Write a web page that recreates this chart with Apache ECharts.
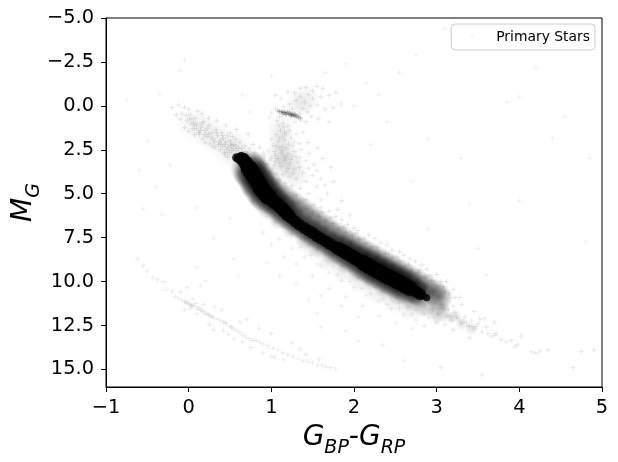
<!DOCTYPE html>
<html><head><meta charset="utf-8">
<style>html,body{margin:0;padding:0;background:#fff}#c{width:618px;height:462px}</style>
<script src="https://cdn.jsdelivr.net/npm/echarts@6/dist/echarts.min.js"></script>
</head><body><div id="c"></div>
<script>
const xTicks=[-1,0,1,2,3,4,5];
const yTicks=[-5,-2.5,0,2.5,5,7.5,10,12.5,15];
const coreTip=[[0.58,2.95],[0.6,3.0],[0.63,2.9],[0.68,2.95],[0.72,3.15]];
const coreTop=[[0.64,3.0],[0.67,3.2],[0.70,3.38]];
const coreUpper=[[0.73,3.55],[0.76,3.75],[0.79,3.98],[0.82,4.2],[0.85,4.45],[0.88,4.72],[0.92,4.95],[0.96,5.15]];
const coreShoulder=[[1.0,5.3],[1.04,5.47],[1.08,5.62],[1.12,5.8],[1.16,5.98],[1.2,6.18]];
const coreMid=[[1.24,6.38],[1.29,6.58],[1.34,6.76],[1.4,6.95],[1.45,7.09],[1.5,7.24],[1.55,7.4],[1.6,7.55],[1.66,7.72],[1.71,7.86],[1.76,8.0]];
const coreRise=[[1.82,8.14],[1.87,8.27],[1.92,8.4],[1.97,8.54],[2.02,8.68],[2.07,8.82]];
const coreLow=[[2.12,8.96],[2.17,9.1],[2.22,9.23],[2.27,9.36],[2.32,9.49],[2.37,9.62],[2.42,9.74],[2.47,9.86],[2.52,9.98],[2.57,10.1],[2.62,10.23],[2.67,10.36]];
const coreFade=[[2.72,10.5],[2.76,10.6],[2.8,10.72]];
const coreEnd=[[2.84,10.82],[2.88,10.92]];
const bandBinary=[[0.8,3.4],[0.88,3.9],[0.97,4.4],[1.06,4.85],[1.16,5.25],[1.26,5.6],[1.36,5.95],[1.46,6.3],[1.56,6.65],[1.66,6.98],[1.76,7.3],[1.86,7.58],[1.96,7.88],[2.06,8.15],[2.16,8.42],[2.26,8.68],[2.36,8.95],[2.46,9.2],[2.56,9.48],[2.66,9.75],[2.76,10.02],[2.86,10.3],[2.96,10.6],[3.03,10.9]];
const bandSub=[[0.68,3.95],[0.76,4.6],[0.86,5.25],[0.97,5.85],[1.1,6.4],[1.26,6.95],[1.42,7.5],[1.58,8.0],[1.74,8.45],[1.9,8.92],[2.06,9.4],[2.22,9.85],[2.38,10.3],[2.54,10.7],[2.7,11.05],[2.86,11.38],[3.02,11.72]];
const tailCloud=[[3.16,12.05],[3.3,12.4],[3.42,12.7],[3.08,11.5],[3.22,11.95]];
const bandFarLow=[[1.5,7.9],[1.7,8.65],[1.9,9.3],[2.1,9.9],[2.3,10.5],[2.5,11.0],[2.7,11.45]];
const blueCloud=[[0.02,0.9],[0.1,1.2],[0.18,1.35],[0.26,1.7],[0.34,1.85],[0.42,2.15],[0.5,2.3],[0.56,2.55],[0.62,2.45],[0.52,2.75]];
const giantCloud=[[1.12,1.3],[1.12,1.9],[1.12,2.5],[1.1,3.0],[1.2,2.9],[1.12,3.5],[1.24,3.5],[1.3,4.0],[1.42,-0.4],[1.32,0.0]];
const blueHaze=[[-0.2,0.1],[-0.12,-0.05],[-0.08,0.45],[-0.05,0.1],[0,0.2],[0.02,0.5],[-0.02,0.85],[0.03,1.0],[0.05,1.3],[0,1.45],[0.08,0.7],[0.1,1.05],[0.12,1.5],[0.07,1.65],[0.15,1.2],[0.18,0.9],[0.2,1.4],[0.22,1.75],[0.17,1.9],[0.25,1.1],[0.28,1.55],[0.3,1.9],[0.26,2.15],[0.33,1.35],[0.35,1.7],[0.37,2.05],[0.32,2.35],[0.4,1.5],[0.42,1.85],[0.44,2.2],[0.38,2.5],[0.47,1.7],[0.5,2.0],[0.48,2.35],[0.43,2.65],[0.52,2.55],[0.55,2.2],[0.57,1.9],[0.6,2.4],[0.56,2.75],[0.62,2.05],[0.65,2.6],[0.68,2.3],[0.63,2.85],[0.47,2.9],[0.5,1.55],[0.53,1.75],[0.58,2.55],[0.61,2.7],[0.46,2.5],[0.41,2.3],[0.36,2.2],[0.31,2.05],[0.24,1.6],[0.19,1.65],[0.14,1.4],[0.09,1.3],[0.06,0.95],[0.01,0.75],[0.11,0.3],[0.24,0.7],[0.34,0.85],[0.45,1.1],[0.58,1.35],[0.72,1.6],[0.78,2.2],[0.52,2.25],[0.49,2.65],[0.54,2.95],[0.59,2.95],[0.66,2.95],[0.71,2.7],[0.44,2.75],[0.39,1.95],[0.29,2.3],[0.2,2.1],[-0.05,1.25],[-0.1,0.75],[0.16,0.45],[-0.15,0.5],[-0.03,0.55],[0.04,0.75],[0.07,1.12],[0.13,1.62],[0.16,1.02],[0.23,1.28],[0.27,1.82],[0.34,1.52],[0.39,2.15],[0.41,1.68],[0.45,2.05],[0.51,2.18],[0.54,2.42],[0.57,2.28],[0.64,2.42],[0.69,2.62],[0.74,2.45],[0.8,2.65],[0.86,2.35],[0.9,2.7]];
const giant=[[1.05,-0.6],[1.12,-0.4],[1.2,-0.8],[1.28,-0.75],[1.35,-1.0],[1.42,-1.05],[1.5,-0.85],[1.55,-1.1],[1.62,-1.0],[1.3,-0.3],[1.4,-0.2],[1.5,-0.4],[1.6,-0.5],[1.7,-0.6],[1.78,-0.75],[1.25,0.2],[1.38,0.15],[1.47,0.0],[1.56,-0.05],[1.65,0.2],[1.75,0.1],[1.85,-0.1],[1.05,0.15],[1.0,0.4],[0.98,0.65],[1.07,0.85],[1.14,1.0],[1.2,1.15],[1.28,0.9],[1.36,0.8],[1.48,0.6],[1.57,0.75],[1.7,0.9],[1.11,1.4],[1.18,1.6],[1.06,1.65],[1.0,1.9],[1.08,2.05],[1.16,1.95],[1.24,1.85],[1.3,1.6],[1.38,1.5],[1.02,2.25],[1.1,2.35],[1.18,2.4],[1.26,2.25],[1.34,2.15],[1.44,2.1],[0.96,2.55],[1.04,2.6],[1.12,2.7],[1.2,2.75],[1.28,2.6],[1.36,2.5],[1.46,2.7],[1.56,2.4],[0.92,2.85],[1.0,2.95],[1.08,3.0],[1.16,3.1],[1.24,3.05],[1.32,3.2],[1.42,3.1],[1.52,3.35],[1.62,3.0],[1.72,3.5],[0.88,3.2],[0.96,3.3],[1.04,3.4],[1.12,3.45],[1.2,3.55],[1.28,3.6],[1.38,3.8],[1.5,3.95],[1.6,4.15],[1.75,4.3],[0.9,3.65],[0.98,3.75],[1.06,3.85],[1.14,3.9],[1.22,4.0],[1.3,4.15],[1.42,4.3],[1.55,4.6],[1.68,5.0],[1.85,5.4],[1.01,4.1],[1.09,4.2],[1.17,4.4],[1.25,4.55],[1.35,4.7],[1.45,5.0],[1.6,5.35],[1.8,5.9],[1.95,6.2],[1.22,3.3],[1.18,2.95],[1.14,2.3],[1.1,1.85],[1.16,1.5],[1.3,2.9],[1.05,3.15],[1.15,1.2],[1.09,1.1],[1.22,1.42],[1.14,1.72],[1.06,2.3],[1.13,2.52],[1.21,2.18],[1.28,2.05],[1.05,2.82],[1.15,2.85],[1.25,2.85],[1.35,2.95],[0.98,3.1],[1.1,3.25],[1.18,3.75],[1.26,3.85],[1.34,3.5],[1.45,3.55],[1.55,3.7],[1.65,4.5],[1.02,3.6],[1.45,-0.65],[1.35,-0.55],[1.22,-0.1],[1.15,0.05],[1.34,0.45],[1.44,0.35],[1.1,0.6],[1.42,0.9]];
const clump=[[1.08,0.28],[1.1,0.33],[1.13,0.36],[1.15,0.38],[1.17,0.42],[1.19,0.4],[1.21,0.47],[1.23,0.46],[1.25,0.52],[1.27,0.55],[1.29,0.56],[1.31,0.62],[1.33,0.65],[1.35,0.7],[1.2,0.35],[1.24,0.58],[1.14,0.46],[1.28,0.48],[1.18,0.5],[1.22,0.42],[1.26,0.47],[1.16,0.36],[1.3,0.58],[1.12,0.32],[1.24,0.5]];
const msUpper=[[0.95,4.45],[1.05,4.85],[1.2,5.2],[1.32,5.5],[1.42,5.85],[1.5,6.05],[1.58,6.3],[1.66,6.55],[1.74,6.7],[1.82,7.0],[1.9,7.2],[1.98,7.4],[2.06,7.6],[2.14,7.85],[2.22,8.0],[2.3,8.25],[2.38,8.4],[2.46,8.65],[2.54,8.85],[2.62,9.1],[2.7,9.3],[2.78,9.5],[2.86,9.75],[2.94,9.95],[3.02,10.25],[3.1,10.55],[1.78,6.3],[1.92,6.75],[2.05,7.1],[2.18,7.35],[2.32,7.8],[2.46,8.2],[2.6,8.5],[2.74,8.85],[2.88,9.3],[3.0,9.6],[3.12,10.0],[3.2,10.45],[2.25,7.55],[2.4,7.9],[2.55,8.3],[1.6,5.8],[1.7,6.0],[1.52,5.6],[1.85,6.5],[2.0,6.95],[2.68,8.7],[2.82,9.05],[3.05,10.0],[3.28,10.9],[1.3,5.1],[1.42,5.35],[1.62,6.05],[1.72,6.35],[1.88,6.9],[2.02,7.25],[2.12,7.55],[2.28,8.05],[2.42,8.45],[2.52,8.6],[2.66,9.0],[2.8,9.35],[2.92,9.65],[3.08,10.3],[3.15,10.7],[3.22,10.9]];
const msLower=[[0.7,4.9],[0.78,5.45],[0.86,5.85],[0.95,6.3],[1.04,6.6],[1.14,6.9],[1.25,7.3],[1.35,7.5],[1.45,7.95],[1.55,8.2],[1.65,8.5],[1.75,8.85],[1.85,9.1],[1.95,9.45],[2.05,9.8],[2.15,10.05],[2.25,10.35],[2.35,10.6],[2.45,10.9],[2.55,11.2],[2.65,11.45],[2.75,11.65],[2.85,11.85],[1.1,7.6],[1.25,8.1],[1.4,8.6],[1.55,9.0],[1.7,9.5],[1.85,9.95],[2.0,10.35],[2.15,10.8],[2.3,11.1],[2.45,11.55],[2.6,11.9],[2.75,12.2],[1.3,9.0],[1.5,9.7],[1.7,10.4],[1.9,10.85],[2.1,11.4],[2.3,11.95],[2.5,12.35],[2.7,12.65],[1.0,7.9],[1.6,10.8],[1.85,11.4],[2.05,12.0],[2.85,12.5],[0.9,7.2],[1.15,8.6],[1.8,9.6],[1.95,10.0],[2.1,10.4],[2.2,10.7],[2.35,11.0],[2.4,11.3],[2.55,11.5],[2.7,11.85],[2.9,12.05],[1.6,9.1],[1.75,9.15],[1.48,8.5],[1.35,8.05]];
const msTail=[[2.95,11.6],[3.02,11.85],[3.08,11.55],[3.12,11.95],[3.18,12.2],[3.22,11.75],[3.26,12.1],[3.3,12.4],[3.34,12.0],[3.38,12.55],[3.42,12.25],[3.46,12.7],[3.5,12.4],[3.55,12.85],[3.6,12.6],[3.66,13.1],[3.72,12.95],[3.78,13.3],[3.84,13.45],[3.9,13.35],[3.95,13.7],[3.98,13.6],[4.15,14.0],[4.2,14.05],[4.25,13.95],[4.35,13.9],[4.02,13.1],[3.3,11.3],[3.45,11.7],[3.58,12.1],[3.2,12.75],[3.4,13.2],[3.1,12.45],[3.0,12.35],[3.7,12.3],[4.75,14.0],[4.65,14.9],[4.9,13.9],[3.05,14.9],[3.55,15.3],[3.36,12.35],[3.4,12.5],[3.32,12.25],[3.28,12.3],[3.44,12.6],[3.48,12.55],[3.24,12.0],[3.16,12.0],[3.14,11.6],[3.06,11.3],[3.2,11.4],[3.52,12.15],[3.62,12.95],[3.7,13.05]];
const whiteDwarf=[[-0.62,8.7],[-0.55,9.1],[-0.5,9.4],[-0.44,9.8],[-0.38,9.9],[-0.3,10.0],[-0.27,10.45],[-0.2,10.55],[-0.16,10.85],[-0.12,10.95],[-0.08,11.05],[-0.05,11.15],[-0.02,11.2],[0.0,11.25],[0.03,11.35],[0.06,11.4],[0.1,11.55],[0.14,11.65],[0.18,11.7],[0.22,11.85],[0.26,11.95],[0.3,12.05],[0.34,12.15],[0.38,12.2],[0.42,12.3],[0.46,12.4],[0.5,12.55],[0.54,12.7],[0.58,12.8],[0.62,12.9],[0.66,13.05],[0.7,13.15],[0.74,13.25],[0.78,13.35],[0.82,13.35],[0.86,13.45],[0.9,13.55],[0.96,13.65],[1.02,13.8],[1.08,13.9],[1.14,14.05],[1.2,14.15],[1.26,14.25],[1.32,14.4],[1.38,14.5],[1.44,14.55],[1.5,14.65],[1.56,14.75],[1.62,14.75],[1.66,14.85],[1.72,14.9],[1.78,15.0],[1.04,14.3],[0.1,11.85],[0.25,12.45],[0.3,12.75],[0.42,12.8],[0.48,13.0],[0.55,13.25],[0.65,13.45],[0.75,13.75],[0.9,14.05],[1.0,14.25],[1.15,14.45],[0.05,11.0],[0.18,11.3],[0.32,11.45],[0.4,11.6],[0.62,12.3],[0.7,12.15],[0.85,12.65],[1.0,12.95],[1.25,13.5],[1.35,13.85],[1.42,14.15],[1.58,14.45],[-0.1,10.6],[-0.02,10.35],[0.14,10.25],[0.02,11.55],[-0.05,11.6],[0.08,11.25],[0.12,11.48],[0.16,11.6],[0.28,12.0],[0.44,12.35],[0.52,12.6],[0.24,11.9],[0.2,11.8],[0.02,11.3],[0.04,11.38],[-0.03,11.17]];
const field=[[-0.1,-2.0],[-0.35,-0.65],[-0.5,2.0],[-0.6,3.7],[-0.4,4.6],[-0.55,5.85],[0.1,5.8],[0.55,8.7],[1.9,-2.4],[2.55,-1.9],[2.75,-2.9],[3.75,-3.5],[3.85,-0.2],[4.0,-0.5],[4.55,0.6],[4.4,1.85],[2.9,1.9],[3.3,3.0],[2.7,4.3],[3.4,5.6],[2.2,2.2],[2.4,0.9],[2.0,0.0],[2.15,-1.3],[0.5,6.4],[0.3,7.5],[0.6,9.7],[0.95,8.95],[1.1,9.7],[1.3,10.1],[1.45,11.05],[1.55,11.8],[1.6,12.6],[0.1,9.2],[0.2,9.95],[4.0,5.4],[4.8,7.7],[3.5,8.1],[2.9,7.0],[3.6,9.6],[1.9,12.8],[2.05,13.4],[2.35,13.6],[2.6,14.5],[-0.75,-0.3],[1.0,-1.7],[1.65,-1.9],[2.3,-0.6],[0.65,-0.6],[0.75,0.35],[-0.05,-2.6],[3.1,-4.4],[4.2,-2.2],[4.85,3.0],[-0.22,3.4],[-0.32,6.2]];
const cross='path://M4 0h2v4h4v2h-4v4h-2v-4h-4v-2h4z';
function stars(name,data,opacity){return{name,type:'scatter',data,symbol:cross,symbolSize:5,silent:true,itemStyle:{color:'#000',opacity:opacity||0.06},z:3}}
function puff(name,data,size,alpha){return{name,type:'scatter',data,symbol:'circle',symbolSize:size,silent:true,
  itemStyle:{color:{type:'radial',x:0.5,y:0.5,r:0.5,colorStops:[{offset:0,color:'rgba(0,0,0,'+alpha+')'},{offset:0.5,color:'rgba(0,0,0,'+alpha*0.6+')'},{offset:1,color:'rgba(0,0,0,0)'}]}},z:4}}
function solid(name,data,size){return{name,type:'scatter',data,symbol:'circle',symbolSize:size,silent:true,itemStyle:{color:'#000'},z:5}}
const nameRich={m:{fontFamily:'DejaVu Sans',fontStyle:'italic',fontSize:28,color:'#000',lineHeight:30,verticalAlign:'bottom'},s:{fontFamily:'DejaVu Sans',fontStyle:'italic',fontSize:19,color:'#000',lineHeight:18,verticalAlign:'bottom',padding:[0,0,-6,0]}};
const chart=echarts.init(document.getElementById('c'),null,{renderer:'canvas'});
chart.setOption({animation:false,
 grid:{left:106,top:18,width:496,height:369,show:true,borderColor:'#000',borderWidth:1,backgroundColor:'#fff',containLabel:false,outerBoundsMode:'none'},
 xAxis:{type:'value',min:-1,max:5,splitLine:{show:false},
  axisLine:{show:true,onZero:false,lineStyle:{color:'#000',width:1}},
  axisTick:{show:true,length:5,lineStyle:{color:'#000',width:1},customValues:xTicks},
  axisLabel:{fontFamily:'DejaVu Sans',fontSize:19.4,color:'#000',margin:11,customValues:xTicks,formatter:v=>String(v).replace('-','\u2212')},
  name:'{m|G}{s|BP}{m|-G}{s|RP}',nameLocation:'middle',nameGap:35,nameMoveOverlap:false,nameTextStyle:{rich:nameRich}},
 yAxis:{type:'value',inverse:true,min:-5,max:16,splitLine:{show:false},
  axisLine:{show:true,onZero:false,lineStyle:{color:'#000',width:1}},
  axisTick:{show:true,length:5,lineStyle:{color:'#000',width:1},customValues:yTicks},
  axisLabel:{fontFamily:'DejaVu Sans',fontSize:19.4,color:'#000',margin:12,customValues:yTicks,formatter:v=>v.toFixed(1).replace('-','\u2212')},
  name:'{m|M}{s|G}',nameLocation:'middle',nameGap:68,nameRotate:90,nameMoveOverlap:false,nameTextStyle:{rich:nameRich}},
 legend:{data:['Primary Stars'],right:23,top:24,orient:'horizontal',itemWidth:4,itemHeight:4,padding:[6,5,6,19],
  backgroundColor:'rgba(255,255,255,0.8)',borderColor:'#ccc',borderWidth:1,borderRadius:4,selectedMode:false,
  textStyle:{fontFamily:'DejaVu Sans',fontSize:13.9,color:'#000',padding:[0,0,0,17]}},
 series:[
  stars('Primary Stars',field),stars('blue',blueHaze,0.1),stars('giant',giant,0.09),stars('clump',clump,0.22),
  stars('msU',msUpper,0.1),stars('msL',msLower,0.07),stars('tail',msTail,0.09),stars('wd',whiteDwarf,0.08),
  puff('blueCloud',blueCloud,36,0.03),puff('giantCloud',giantCloud,30,0.07),
  puff('tailCloud',tailCloud,14,0.12),
  puff('farLow',bandFarLow,30,0.1),puff('sub',bandSub,24,0.3),puff('binary',bandBinary,28,0.55),
  puff('haloU',coreUpper,38,0.65),puff('haloS',coreShoulder,32,0.55),puff('haloM',coreMid,28,0.55),puff('haloR',coreRise,32,0.55),puff('haloL',coreLow,36,0.6),puff('haloF',coreFade,28,0.5),
  solid('tip',coreTip,9),solid('coreT',coreTop,13),solid('coreU',coreUpper,17),solid('coreS',coreShoulder,14),solid('coreM',coreMid,12),solid('coreR',coreRise,14),solid('coreL',coreLow,16),solid('coreF',coreFade,12),solid('coreE',coreEnd,7)
 ]});
</script></body></html>
